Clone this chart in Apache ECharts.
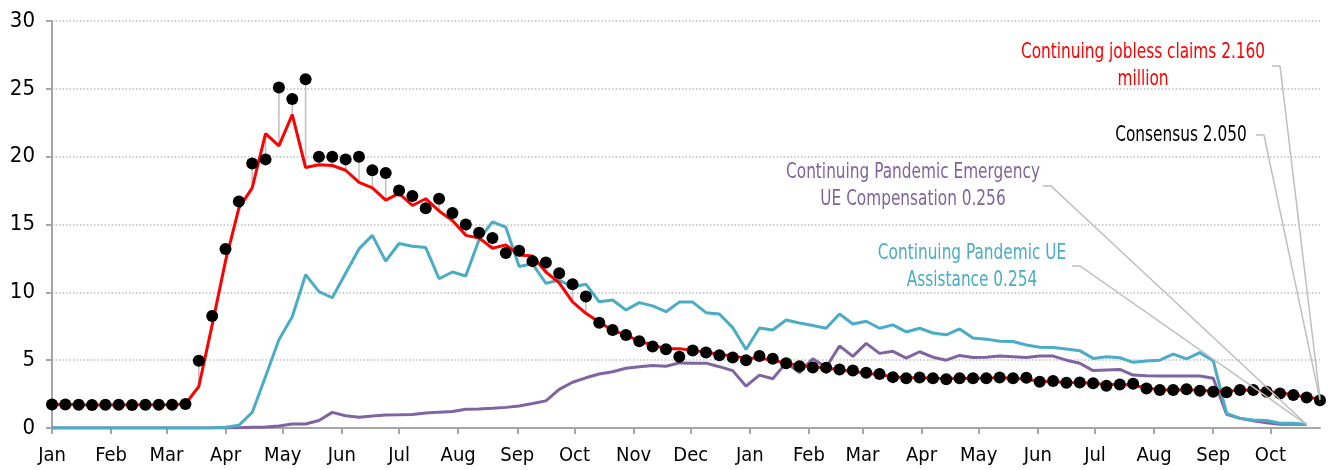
<!DOCTYPE html>
<html>
<head>
<meta charset="utf-8">
<script src="https://cdn.jsdelivr.net/npm/echarts@6/dist/echarts.min.js"></script>
<style>
  html, body { margin: 0; padding: 0; background: #fff; }
  #chart { width: 1337px; height: 470px; }
</style>
</head>
<body>
<div id="chart"></div>
<script>
// weekly observations, millions (Jan 2020 - Oct 2021)
var firstWeek = Date.UTC(2020, 0, 4);
var monthNames = ['Jan','Feb','Mar','Apr','May','Jun','Jul','Aug','Sep','Oct','Nov','Dec'];

var consensus = [1.74,1.74,1.72,1.70,1.72,1.71,1.70,1.72,1.72,1.71,
  1.77,4.96,8.25,13.2,16.7,19.5,19.8,25.1,24.25,25.7,
  20.0,20.0,19.8,20.0,19.0,18.8,17.5,17.1,16.2,16.9,
  15.85,15.0,14.4,14.0,12.9,13.07,12.3,12.2,11.4,10.6,
  9.7,7.76,7.22,6.85,6.4,6.0,5.8,5.26,5.72,5.56,
  5.37,5.19,5.0,5.3,5.1,4.77,4.55,4.46,4.45,4.32,
  4.23,4.08,3.98,3.75,3.66,3.73,3.66,3.6,3.66,3.66,
  3.66,3.72,3.66,3.7,3.41,3.46,3.34,3.36,3.29,3.11,
  3.2,3.27,2.92,2.8,2.8,2.85,2.75,2.68,2.64,2.8,
  2.8,2.68,2.55,2.43,2.24,2.05];

var claims = [1.73,1.75,1.72,1.70,1.72,1.70,1.71,1.72,1.72,1.70,
  1.78,3.06,7.6,12.3,16.2,17.7,21.7,20.8,23.1,19.2,
  19.4,19.35,19.0,18.1,17.7,16.8,17.3,16.4,16.9,16.0,
  15.3,14.2,14.0,13.25,13.5,12.75,12.68,11.5,10.7,9.3,
  8.45,7.8,7.2,6.85,6.4,6.1,5.85,5.85,5.72,5.6,
  5.42,5.3,5.15,5.15,5.0,4.78,4.62,4.52,4.42,4.3,
  4.17,4.05,3.92,3.78,3.7,3.7,3.67,3.65,3.66,3.65,
  3.68,3.7,3.67,3.6,3.45,3.42,3.36,3.33,3.3,3.2,
  3.22,3.15,2.95,2.82,2.8,2.82,2.78,2.72,2.7,2.8,
  2.78,2.7,2.6,2.45,2.25,2.16];

var pua = [0,0,0,0,0,0,0,0,0,0,
  0,0,0.02,0.05,0.2,1.15,3.8,6.5,8.2,11.3,
  10.05,9.6,11.4,13.2,14.2,12.3,13.6,13.4,13.3,11.0,
  11.5,11.2,13.9,15.2,14.8,11.9,12.1,10.67,10.9,10.4,
  10.6,9.3,9.43,8.7,9.24,9.0,8.57,9.28,9.28,8.5,
  8.4,7.4,5.78,7.37,7.22,7.96,7.74,7.56,7.35,8.4,
  7.67,7.87,7.35,7.6,7.08,7.35,7.0,6.87,7.3,6.63,
  6.55,6.4,6.38,6.12,5.95,5.93,5.82,5.7,5.13,5.26,
  5.18,4.84,4.94,5.0,5.45,5.09,5.55,4.96,1.08,0.71,
  0.59,0.55,0.35,0.35,0.254];

var peuc = [0,0,0,0,0,0,0,0,0,0,
  0,0,0,0,0.02,0.05,0.08,0.15,0.3,0.3,
  0.55,1.15,0.9,0.8,0.88,0.95,0.97,1.0,1.1,1.17,
  1.22,1.38,1.4,1.45,1.52,1.62,1.8,2.0,2.85,3.37,
  3.7,3.98,4.15,4.4,4.52,4.6,4.55,4.8,4.78,4.78,
  4.52,4.23,3.08,3.9,3.63,4.8,4.08,5.1,4.48,6.05,
  5.28,6.24,5.5,5.65,5.15,5.62,5.22,5.0,5.35,5.2,
  5.22,5.3,5.26,5.2,5.3,5.3,5.0,4.77,4.23,4.28,
  4.32,3.9,3.86,3.84,3.83,3.83,3.83,3.66,1.01,0.71,
  0.54,0.39,0.27,0.27,0.256];

var yTicks = [0, 5, 10, 15, 20, 25, 30];

var weeks = [];
for (var i = 0; i < consensus.length; i++) {
    weeks.push(firstWeek + i * 7 * 86400000);
}
// month ticks fall on the same day of month as the first week
var monthTicks = [];
for (var m = 0; m < 22; m++) {
    monthTicks.push(Date.UTC(2020, m, 4));
}

function pairs(vals) {
    var out = [];
    for (var i = 0; i < vals.length; i++) out.push([weeks[i], vals[i]]);
    return out;
}
var dropData = [];
for (var i = 0; i < consensus.length; i++) {
    dropData.push([weeks[i], consensus[i], claims[i]]);
}

var FONT = "'Liberation Sans Narrow', 'DejaVu Sans Condensed', 'Roboto', sans-serif";
var RED = '#ff0000', TEAL = '#4bacc6', PURPLE = '#8064a2', GREY = '#bfbfbf';

var chart = echarts.init(document.getElementById('chart'));

var option = {
    animation: false,
    backgroundColor: '#fff',
    grid: { left: 52, right: 17, top: 21, bottom: 42 },
    xAxis: {
        type: 'value',
        min: weeks[0],
        max: weeks[weeks.length - 1],
        axisLine: { lineStyle: { color: '#a6a6a6', width: 2 } },
        axisTick: { show: true, length: 6, customValues: monthTicks, lineStyle: { color: '#a6a6a6', width: 2 } },
        axisLabel: {
            customValues: monthTicks,
            color: '#000',
            fontFamily: FONT,
            fontSize: 20,
            margin: 18,
            formatter: function (v) { return monthNames[new Date(v).getUTCMonth()]; }
        },
        splitLine: { show: false }
    },
    yAxis: {
        type: 'value',
        min: yTicks[0],
        max: yTicks[yTicks.length - 1],
        interval: 5,
        axisLine: { show: true, lineStyle: { color: '#a6a6a6', width: 2 } },
        axisTick: { show: true, length: 6, lineStyle: { color: '#a6a6a6', width: 2 } },
        axisLabel: { color: '#000', fontFamily: FONT, fontSize: 22, margin: 17 },
        splitLine: { lineStyle: { color: GREY, width: 1.5, type: [1.5, 2] } }
    },
    series: [
        {
            name: 'PEUC', type: 'line', data: pairs(peuc), showSymbol: false,
            lineStyle: { color: PURPLE, width: 3 }, z: 2
        },
        {
            name: 'PUA', type: 'line', data: pairs(pua), showSymbol: false,
            lineStyle: { color: TEAL, width: 3 }, z: 3
        },
        {
            name: 'drop', type: 'custom', data: dropData, z: 3,
            encode: { x: 0, y: [1, 2] },
            renderItem: function (params, api) {
                var a = api.coord([api.value(0), api.value(1)]);
                var b = api.coord([api.value(0), api.value(2)]);
                return { type: 'line', shape: { x1: a[0], y1: a[1], x2: b[0], y2: b[1] },
                         style: { stroke: GREY, lineWidth: 1.5 } };
            }
        },
        {
            name: 'Claims', type: 'line', data: pairs(claims), showSymbol: false,
            lineStyle: { color: RED, width: 3 }, z: 4
        },
        {
            name: 'Consensus', type: 'scatter', data: pairs(consensus),
            symbolSize: 12, itemStyle: { color: '#000', opacity: 1 }, z: 5
        }
    ]
};
chart.setOption(option);

// annotations with leader lines running to the last point of each series
var notes = [
    { lines: ['Continuing jobless claims 2.160', 'million'], color: RED, cx: 1143, cy: 66, lx: 1272, ly: 66, vals: claims },
    { lines: ['Consensus 2.050'], color: '#000', cx: 1181, cy: 135, lx: 1256, ly: 135, vals: consensus },
    { lines: ['Continuing Pandemic Emergency', 'UE Compensation 0.256'], color: PURPLE, cx: 913, cy: 186, lx: 1043, ly: 186, vals: peuc },
    { lines: ['Continuing Pandemic UE', 'Assistance 0.254'], color: TEAL, cx: 972, cy: 267, lx: 1072, ly: 266, vals: pua }
];
var graphics = [];
notes.forEach(function (n) {
    var last = n.vals.length - 1;
    var p = chart.convertToPixel({ gridIndex: 0 }, [weeks[last], n.vals[last]]);
    graphics.push({
        type: 'polyline', z: 10, silent: true,
        shape: { points: [[n.lx, n.ly], [n.lx + 8, n.ly], p] },
        style: { stroke: GREY, lineWidth: 1.5, fill: null }
    });
    graphics.push({
        type: 'text', z: 10, x: n.cx, y: n.cy, scaleX: 0.775,
        style: {
            text: n.lines.join('\n'), fill: n.color, font: '22px ' + FONT,
            align: 'center', verticalAlign: 'middle', lineHeight: 27
        }
    });
});
chart.setOption({ graphic: graphics });
</script>
</body>
</html>
